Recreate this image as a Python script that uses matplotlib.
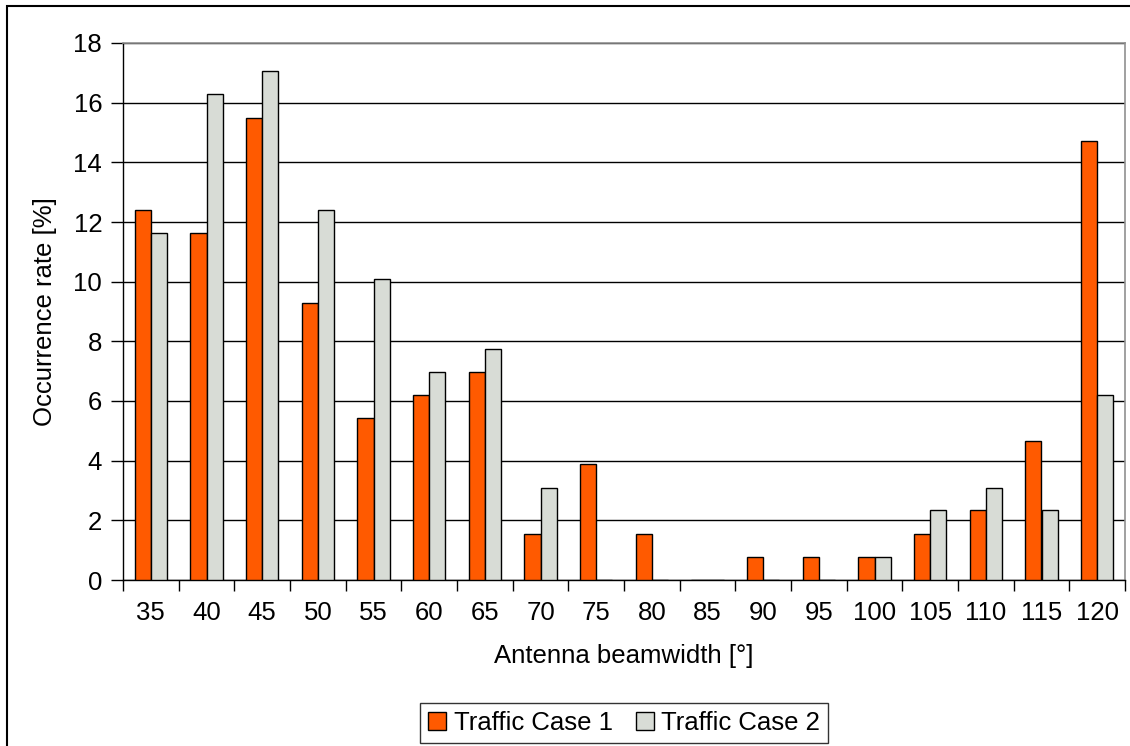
import numpy as np
import matplotlib
matplotlib.use("Agg")
import matplotlib.pyplot as plt
from matplotlib.patches import Rectangle

# Beamwidth categories and occurrence rates (%)
beamwidths = ["35", "40", "45", "50", "55", "60", "65", "70", "75", "80",
              "85", "90", "95", "100", "105", "110", "115", "120"]
case1 = [12.40, 11.63, 15.50, 9.30, 5.43, 6.20, 6.98, 1.55, 3.88, 1.55,
         0.00, 0.78, 0.78, 0.78, 1.55, 2.33, 4.65, 14.73]
case2 = [11.63, 16.28, 17.05, 12.40, 10.08, 6.98, 7.75, 3.10, 0.00, 0.00,
         0.00, 0.00, 0.00, 0.78, 2.33, 3.10, 2.33, 6.20]
series_names = ["Traffic Case 1", "Traffic Case 2"]
yticks = [0, 2, 4, 6, 8, 10, 12, 14, 16, 18]

plt.rcParams["font.family"] = ["Liberation Sans", "DejaVu Sans"]
FS = 18.5

W, H = 1130, 746
fig = plt.figure(figsize=(W / 100, H / 100), dpi=100)
ax = fig.add_axes([123 / W, 1 - 580 / H, (1125 - 123) / W, (580 - 43) / H])

x = np.arange(len(beamwidths))
bw = 0.29
ax.bar(x - bw / 2, case1, bw, color="#FF5A00", edgecolor="black",
       linewidth=1.0, label=series_names[0], zorder=3)
ax.bar(x + bw / 2, case2, bw, color="#D8DCD6", edgecolor="black",
       linewidth=1.0, label=series_names[1], zorder=3)

ax.set_xlim(-0.5, len(beamwidths) - 0.5)
ax.set_ylim(0, 18)
ax.set_yticks(yticks)
ax.tick_params(axis="y", labelsize=FS, length=9, width=1, direction="out", pad=6)
ax.yaxis.grid(True, color="black", linewidth=1.0, zorder=0)
ax.set_axisbelow(True)

# Category labels at centres, tick marks on the boundaries
ax.set_xticks(x)
ax.set_xticklabels(beamwidths)
ax.set_xticks(np.arange(-0.5, len(beamwidths) + 0.5, 1), minor=True)
ax.tick_params(axis="x", which="major", length=0, labelsize=FS, pad=15)
ax.tick_params(axis="x", which="minor", length=8, width=1, direction="out")

for side in ("top", "right"):
    ax.spines[side].set_color("#909090")
    ax.spines[side].set_linewidth(1.2)
for side in ("left", "bottom"):
    ax.spines[side].set_color("black")
    ax.spines[side].set_linewidth(1.0)

ax.set_ylabel("Occurrence rate [%]", fontsize=FS, labelpad=12)
ax.set_xlabel("Antenna beamwidth [°]", fontsize=FS, labelpad=14)

leg = fig.legend(loc="center", bbox_to_anchor=(624 / W, 1 - 723 / H),
                 ncol=2, fontsize=FS, frameon=True, fancybox=False,
                 handlelength=0.7, handleheight=0.7, handletextpad=0.3,
                 columnspacing=0.9, borderpad=0.3, borderaxespad=0)
leg.get_frame().set_edgecolor("black")
leg.get_frame().set_linewidth(1.0)
for h in leg.legend_handles:
    h.set_linewidth(1.0)

# Outer chart border
fig.patches.append(Rectangle((7 / W, -0.1), 1.2, 1 - 6 / H + 0.1,
                             transform=fig.transFigure, fill=False,
                             edgecolor="black", linewidth=1.5))

fig.savefig("out.png", dpi=100)
